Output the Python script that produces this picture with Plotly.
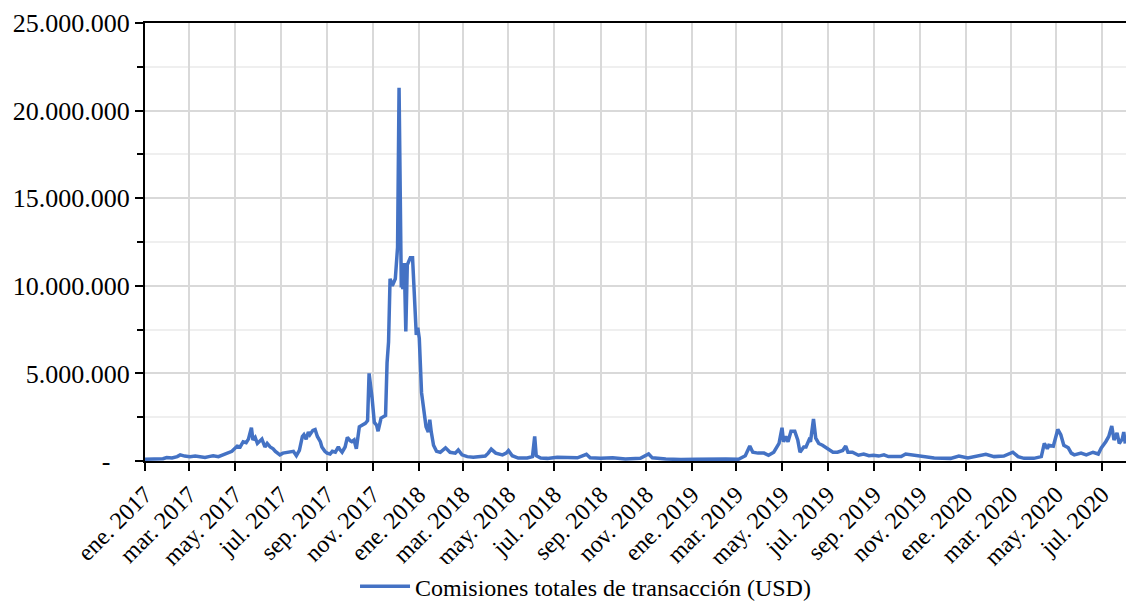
import plotly.graph_objects as go

dates = [
    "2017-01-01", "2017-01-08", "2017-01-17", "2017-01-25", "2017-01-30", "2017-02-06", "2017-02-13",
    "2017-02-17", "2017-02-23", "2017-03-02", "2017-03-09", "2017-03-15", "2017-03-22", "2017-03-27",
    "2017-04-02", "2017-04-09", "2017-04-15", "2017-04-21", "2017-04-27", "2017-05-04", "2017-05-08",
    "2017-05-12", "2017-05-16", "2017-05-19", "2017-05-23", "2017-05-25", "2017-05-28", "2017-05-31",
    "2017-06-04", "2017-06-06", "2017-06-10", "2017-06-13", "2017-06-17", "2017-06-21", "2017-06-24",
    "2017-06-30", "2017-07-04", "2017-07-10", "2017-07-14", "2017-07-18", "2017-07-22", "2017-07-26",
    "2017-07-30", "2017-08-01", "2017-08-04", "2017-08-07", "2017-08-09", "2017-08-13", "2017-08-16",
    "2017-08-19", "2017-08-23", "2017-08-25", "2017-08-29", "2017-09-01", "2017-09-05", "2017-09-08",
    "2017-09-12", "2017-09-16", "2017-09-18", "2017-09-21", "2017-09-25", "2017-09-28", "2017-10-02",
    "2017-10-04", "2017-10-07", "2017-10-10", "2017-10-14", "2017-10-18", "2017-10-22", "2017-10-25",
    "2017-10-27", "2017-10-31", "2017-11-03", "2017-11-06", "2017-11-08", "2017-11-12", "2017-11-15",
    "2017-11-18", "2017-11-20", "2017-11-22", "2017-11-24", "2017-11-27", "2017-12-01", "2017-12-04",
    "2017-12-06", "2017-12-09", "2017-12-10", "2017-12-11", "2017-12-13", "2017-12-15", "2017-12-17",
    "2017-12-21", "2017-12-24", "2017-12-26", "2017-12-29", "2017-12-31", "2018-01-02", "2018-01-05",
    "2018-01-08", "2018-01-11", "2018-01-14", "2018-01-16", "2018-01-18", "2018-01-21", "2018-01-25",
    "2018-01-30", "2018-02-06", "2018-02-12", "2018-02-19", "2018-02-23", "2018-02-28", "2018-03-07",
    "2018-03-15", "2018-03-24", "2018-03-31", "2018-04-04", "2018-04-08", "2018-04-14", "2018-04-23",
    "2018-04-28", "2018-05-01", "2018-05-06", "2018-05-14", "2018-05-26", "2018-06-02", "2018-06-05",
    "2018-06-07", "2018-06-13", "2018-06-22", "2018-07-05", "2018-07-19", "2018-08-01", "2018-08-13",
    "2018-08-18", "2018-09-01", "2018-09-17", "2018-10-04", "2018-10-24", "2018-11-04", "2018-11-09",
    "2018-11-27", "2018-12-17", "2019-01-06", "2019-01-26", "2019-02-15", "2019-03-04", "2019-03-13",
    "2019-03-19", "2019-03-23", "2019-03-30", "2019-04-07", "2019-04-13", "2019-04-20", "2019-04-27",
    "2019-05-01", "2019-05-03", "2019-05-06", "2019-05-09", "2019-05-13", "2019-05-18", "2019-05-22",
    "2019-05-25", "2019-05-30", "2019-06-02", "2019-06-06", "2019-06-08", "2019-06-12", "2019-06-15",
    "2019-06-19", "2019-06-24", "2019-07-01", "2019-07-08", "2019-07-14", "2019-07-21", "2019-07-25",
    "2019-07-28", "2019-08-03", "2019-08-11", "2019-08-18", "2019-08-25", "2019-08-31", "2019-09-07",
    "2019-09-14", "2019-09-20", "2019-09-27", "2019-10-07", "2019-10-13", "2019-10-20", "2019-11-02",
    "2019-11-20", "2019-12-12", "2019-12-23", "2020-01-04", "2020-01-12", "2020-01-28", "2020-02-08",
    "2020-02-21", "2020-03-04", "2020-03-11", "2020-03-19", "2020-04-01", "2020-04-11", "2020-04-15",
    "2020-04-19", "2020-04-21", "2020-04-27", "2020-04-29", "2020-05-03", "2020-05-07", "2020-05-11",
    "2020-05-17", "2020-05-21", "2020-05-25", "2020-06-03", "2020-06-10", "2020-06-19", "2020-06-26",
    "2020-06-30", "2020-07-06", "2020-07-10", "2020-07-14", "2020-07-17", "2020-07-21", "2020-07-24",
    "2020-07-28", "2020-07-30", "2020-08-01",
]

fees_usd = [
    100000, 120000, 150000, 130000, 200000, 170000, 250000,
    350000, 280000, 250000, 280000, 220000, 200000, 250000,
    300000, 250000, 350000, 400000, 550000, 850000, 800000,
    1100000, 1050000, 1250000, 1900000, 1200000, 1350000, 1000000,
    1200000, 1250000, 800000, 1000000, 800000, 700000, 550000,
    350000, 450000, 500000, 500000, 550000, 300000, 600000,
    1400000, 1500000, 1250000, 1650000, 1500000, 1750000, 1800000,
    1400000, 1100000, 800000, 550000, 450000, 400000, 550000,
    500000, 800000, 650000, 500000, 800000, 1350000, 1150000,
    1100000, 1200000, 700000, 1950000, 2050000, 2150000, 2300000,
    5000000, 3600000, 2200000, 2050000, 1700000, 2450000, 2550000,
    2600000, 5600000, 6800000, 10400000, 10000000, 10400000, 12200000,
    21300000, 9900000, 11200000, 9800000, 11300000, 7400000, 11200000,
    11600000, 11600000, 9600000, 7200000, 7600000, 7000000, 3900000,
    2800000, 1950000, 1650000, 2350000, 1650000, 900000, 550000,
    500000, 750000, 500000, 450000, 630000, 350000, 250000,
    220000, 250000, 280000, 450000, 680000, 450000, 350000,
    450000, 600000, 300000, 170000, 170000, 250000, 1400000,
    300000, 170000, 150000, 220000, 200000, 180000, 380000,
    180000, 150000, 180000, 120000, 150000, 400000, 180000,
    120000, 80000, 100000, 120000, 120000, 100000, 300000,
    850000, 500000, 450000, 450000, 330000, 500000, 1000000,
    1900000, 1100000, 1400000, 1100000, 1700000, 1700000, 1200000,
    500000, 800000, 800000, 1200000, 1100000, 2400000, 1300000,
    1000000, 900000, 700000, 500000, 500000, 600000, 850000,
    500000, 500000, 330000, 400000, 300000, 330000, 280000,
    350000, 250000, 250000, 250000, 400000, 350000, 250000,
    170000, 150000, 280000, 170000, 250000, 380000, 250000,
    280000, 500000, 250000, 150000, 150000, 250000, 1000000,
    700000, 900000, 850000, 1200000, 1800000, 1500000, 900000,
    750000, 450000, 350000, 450000, 350000, 500000, 400000,
    750000, 1100000, 1400000, 2000000, 1200000, 1600000, 1000000,
    1250000, 1650000, 1000000,
]

series_name = "Comisiones totales de transacción (USD)"

x_tick_dates = [
    "2017-01-01", "2017-03-01", "2017-05-01", "2017-07-01", "2017-09-01", "2017-11-01",
    "2018-01-01", "2018-03-01", "2018-05-01", "2018-07-01", "2018-09-01", "2018-11-01",
    "2019-01-01", "2019-03-01", "2019-05-01", "2019-07-01", "2019-09-01", "2019-11-01",
    "2020-01-01", "2020-03-01", "2020-05-01", "2020-07-01",
]
x_tick_labels = [
    "ene. 2017", "mar. 2017", "may. 2017", "jul. 2017", "sep. 2017", "nov. 2017",
    "ene. 2018", "mar. 2018", "may. 2018", "jul. 2018", "sep. 2018", "nov. 2018",
    "ene. 2019", "mar. 2019", "may. 2019", "jul. 2019", "sep. 2019", "nov. 2019",
    "ene. 2020", "mar. 2020", "may. 2020", "jul. 2020",
]
y_tick_values = [0, 5000000, 10000000, 15000000, 20000000, 25000000]
y_tick_labels = ["-\u00a0\u00a0\u00a0", "5.000.000", "10.000.000", "15.000.000", "20.000.000", "25.000.000"]

FONT = "Liberation Serif"

fig = go.Figure()
fig.add_trace(go.Scatter(
    x=dates, y=fees_usd, mode="lines", name=series_name,
    line=dict(color="#4472C4", width=3.5),
))

fig.update_layout(
    width=1126, height=601,
    margin=dict(l=145, r=0, t=23, b=140, autoexpand=False),
    paper_bgcolor="white", plot_bgcolor="white",
    font=dict(family=FONT, size=24, color="black"),
    showlegend=True,
    legend=dict(
        orientation="h", xref="container", yref="container",
        x=0.52, xanchor="center", y=0.024, yanchor="middle",
        font=dict(family=FONT, size=24, color="black"),
        itemwidth=50,
    ),
)
fig.update_xaxes(
    type="date", range=["2017-01-01", "2020-08-02"], automargin=False,
    tickmode="array", tickvals=x_tick_dates, ticktext=x_tick_labels,
    tickangle=-45, ticks="outside", ticklen=8, tickwidth=2, tickcolor="black",
    showline=True, linecolor="black", linewidth=2, mirror=True,
    showgrid=True, gridcolor="#d9d9d9", gridwidth=2,
    zeroline=False, tickfont=dict(family=FONT, size=24, color="black"),
)
fig.update_yaxes(
    range=[0, 25000000], automargin=False, mirror=False,
    tickmode="array", tickvals=y_tick_values, ticktext=y_tick_labels,
    ticks="outside", ticklen=8, tickwidth=2, tickcolor="black",
    showline=True, linecolor="black", linewidth=2,
    showgrid=True, gridcolor="#d9d9d9", gridwidth=2,
    zeroline=False, tickfont=dict(family=FONT, size=26, color="black"),
    minor=dict(tickmode="array", tickvals=[2500000, 7500000, 12500000, 17500000, 22500000],
               ticks="outside", ticklen=6, tickwidth=2, tickcolor="black",
               showgrid=True, gridcolor="#efefef", gridwidth=2),
)

fig.write_html(
    "out.html",
    config={"displayModeBar": False},
    post_script="document.body.style.margin='0';document.body.style.overflow='hidden';",
)
